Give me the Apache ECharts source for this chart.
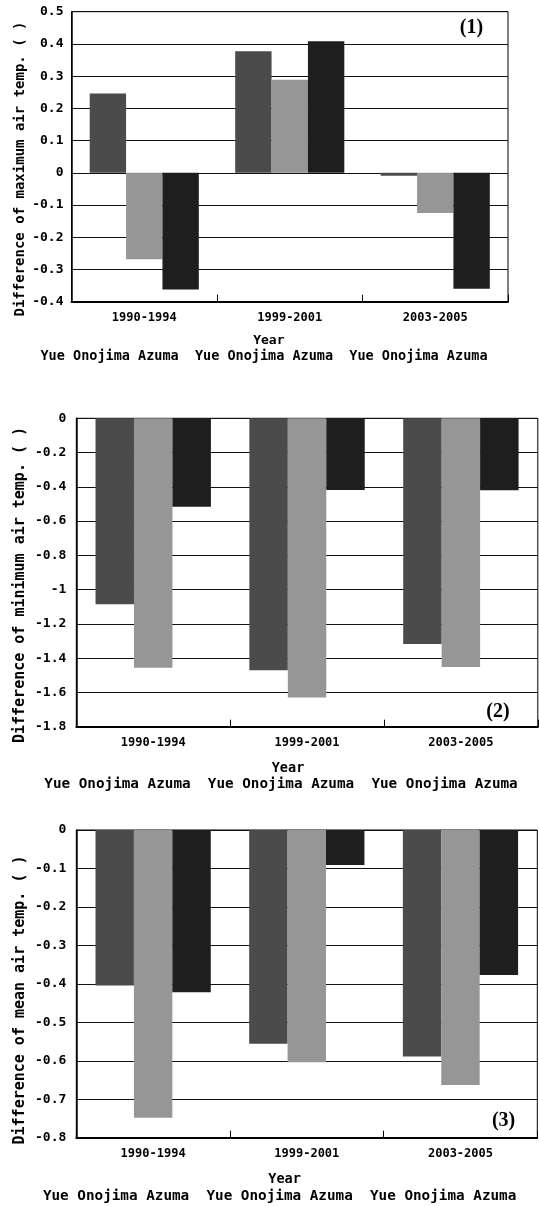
<!DOCTYPE html>
<html>
<head>
<meta charset="utf-8">
<script src="https://cdn.jsdelivr.net/npm/echarts@6/dist/echarts.min.js"></script>
<style>
html, body { margin: 0; padding: 0; background: #fff; }
#chart { width: 539px; height: 1206px; }
</style>
</head>
<body>
<div id="chart"></div>
<script>
var categories = ['1990-1994', '1999-2001', '2003-2005'];
var stations = ['Yue', 'Onojima', 'Azuma'];

// (1) maximum air temp.
var maxYue = [0.246, 0.377, -0.009];
var maxOnojima = [-0.268, 0.289, -0.125];
var maxAzuma = [-0.362, 0.408, -0.360];
// (2) minimum air temp.
var minYue = [-1.086, -1.471, -1.317];
var minOnojima = [-1.456, -1.630, -1.452];
var minAzuma = [-0.516, -0.418, -0.420];
// (3) mean air temp.
var meanYue = [-0.404, -0.556, -0.589];
var meanOnojima = [-0.748, -0.604, -0.663];
var meanAzuma = [-0.422, -0.091, -0.377];

var colors = ['#4b4b4b', '#969696', '#1e1e1e'];
var FONT = 'DejaVu Sans Mono';

var chart = echarts.init(document.getElementById('chart'));

function makeX(idx) {
	return {
		type: 'category',
		gridIndex: idx,
		data: categories,
		axisLine: { onZero: false, lineStyle: { color: '#000', width: 2 } },
		axisTick: { show: true, inside: true, length: 7, lineStyle: { color: '#000', width: 1 } },
		axisLabel: { color: '#000', fontFamily: FONT, fontWeight: 'bold', fontSize: 12, margin: 10 }
	};
}

function makeY(idx, min, max, step, margin) {
	return {
		type: 'value',
		gridIndex: idx,
		min: min,
		max: max,
		interval: step,
		axisLine: { show: true, lineStyle: { color: '#000', width: 1.5 } },
		axisTick: { show: false },
		splitLine: { show: true, lineStyle: { color: '#111', width: 1 } },
		axisLabel: { color: '#000', fontFamily: FONT, fontWeight: 'bold', fontSize: 13, margin: margin }
	};
}

function makeBars(idx, values) {
	return values.map(function(v, i) {
		return {
			name: stations[i],
			type: 'bar',
			xAxisIndex: idx,
			yAxisIndex: idx,
			data: v,
			barGap: '0%',
			barCategoryGap: '25%',
			itemStyle: { color: colors[i] },
			silent: true
		};
	});
}

function label(x, y, text, size) {
	return {
		type: 'text', x: x, y: y,
		style: { text: text, fill: '#000', font: 'bold ' + size + 'px "' + FONT + '"', align: 'center', verticalAlign: 'middle' }
	};
}

function yName(x, y, text, size) {
	return {
		type: 'text', x: x, y: y, rotation: Math.PI / 2,
		style: { text: text, fill: '#000', font: 'bold ' + size + 'px "' + FONT + '"', align: 'center', verticalAlign: 'middle' }
	};
}

function panelTag(x, y, text) {
	return {
		type: 'text', x: x, y: y,
		style: { text: text, fill: '#000', font: 'bold 20px "Liberation Serif"', align: 'center', verticalAlign: 'middle' }
	};
}

var stationLine = 'Yue Onojima Azuma  Yue Onojima Azuma  Yue Onojima Azuma';

chart.setOption({
	animation: false,
	backgroundColor: '#fff',
	grid: [
		{ left: 71.5, top: 11.7, width: 436.5, height: 290, show: true, borderColor: '#000', borderWidth: 1 },
		{ left: 76.3, top: 418.3, width: 461.5, height: 308.4, show: true, borderColor: '#000', borderWidth: 1 },
		{ left: 76.3, top: 830, width: 461, height: 307.7, show: true, borderColor: '#000', borderWidth: 1 }
	],
	xAxis: [makeX(0), makeX(1), makeX(2)],
	yAxis: [
		makeY(0, -0.4, 0.5, 0.1, 8),
		makeY(1, -1.8, 0, 0.2, 10),
		makeY(2, -0.8, 0, 0.1, 10)
	],
	series: []
		.concat(makeBars(0, [maxYue, maxOnojima, maxAzuma]))
		.concat(makeBars(1, [minYue, minOnojima, minAzuma]))
		.concat(makeBars(2, [meanYue, meanOnojima, meanAzuma])),
	graphic: [
		yName(20, 169, 'Difference of maximum air temp. ( )', 14),
		yName(20, 585, 'Difference of minimum air temp. ( )', 15),
		yName(20, 1000, 'Difference of mean air temp. ( )', 15),
		label(268.8, 340.7, 'Year', 13),
		label(264, 356.7, stationLine, 13.5),
		label(288, 768.3, 'Year', 13.5),
		label(281, 784.5, stationLine, 14.3),
		label(284.6, 1179.3, 'Year', 13.5),
		label(279.6, 1196, stationLine, 14.3),
		panelTag(471.5, 27.5, '(1)'),
		panelTag(498, 712, '(2)'),
		panelTag(503.6, 1121, '(3)')
	]
});
</script>
</body>
</html>
